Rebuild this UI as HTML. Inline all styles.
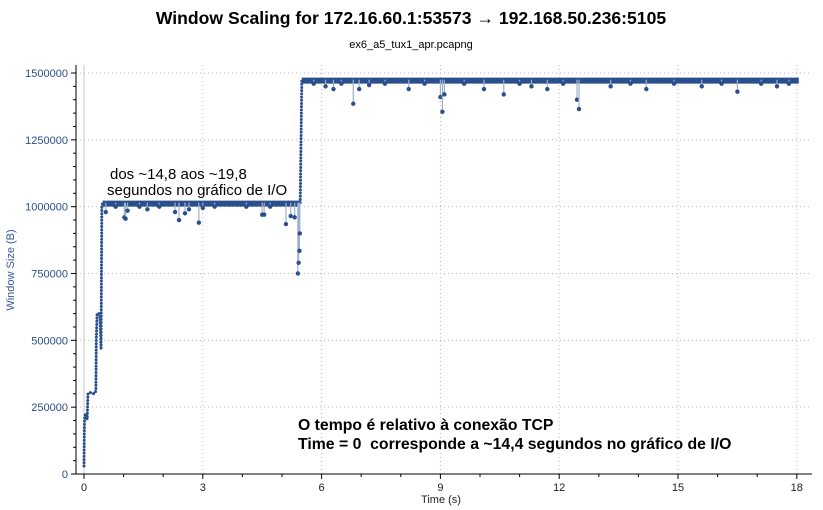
<!DOCTYPE html>
<html><head><meta charset="utf-8"><style>
body{margin:0;background:#fff;width:823px;height:510px;overflow:hidden;font-family:"Liberation Sans",sans-serif}
svg{display:block}
</style></head><body>
<svg id="chart" width="823" height="510">
<text x="411" y="24" text-anchor="middle" font-size="17.6" font-weight="bold" fill="#000">Window Scaling for 172.16.60.1:53573 → 192.168.50.236:5105</text>
<text x="411" y="48" text-anchor="middle" font-size="11" fill="#000">ex6_a5_tux1_apr.pcapng</text>
<text transform="translate(14,270) rotate(-90)" text-anchor="middle" font-size="11" fill="#3a5a9a">Window Size (B)</text>
<text x="441" y="503" text-anchor="middle" font-size="11" fill="#222">Time (s)</text>
<g id="grid"></g><g id="axes"></g><g id="series"></g>
<text x="110" y="179" font-size="15" fill="#000">dos ~14,8 aos ~19,8</text>
<text x="107" y="195" font-size="15" fill="#000">segundos no gráfico de I/O</text>
<text x="298" y="430" font-size="15.8" font-weight="bold" fill="#000">O tempo é relativo à conexão TCP</text>
<text x="298" y="449" font-size="15.8" font-weight="bold" fill="#000" style="white-space:pre">Time = 0  corresponde a ~14,4 segundos no gráfico de I/O</text>
</svg>
<script>
const xTicks=[0,3,6,9,12,15,18];
const yTicks=[0,250000,500000,750000,1000000,1250000,1500000];
const rampTimes=[0,0.005,0.01,0.02,0.05,0.08,0.1,0.15,0.25,0.3,0.31,0.33,0.38,0.4,0.42,0.43,0.45,0.47];
const rampValues=[30000,120000,180000,220000,225000,205000,300000,305000,300000,310000,500000,600000,600000,590000,520000,470000,1000000,1015000];
const plateauTimes=[0.47,5.46,5.5,18.05];
const plateauValues=[1015000,1015000,1475000,1475000];
const dipTimes=[0.55,0.8,1.02,1.05,1.1,1.4,1.6,1.9,2.3,2.4,2.55,2.65,2.9,3.0,3.3,4.1,4.5,4.55,4.7,5.1,5.22,5.32,5.4,5.42,5.44,5.45,5.8,6.1,6.3,6.5,6.8,6.95,7.2,7.6,8.2,8.6,9.0,9.05,9.1,9.6,10.1,10.6,11.0,11.3,11.7,12.1,12.45,12.5,13.3,13.8,14.2,14.9,15.6,16.1,16.5,17.1,17.5,17.8];
const dipValues=[980000,1000000,960000,955000,985000,1000000,990000,1000000,980000,950000,975000,990000,940000,995000,1000000,1000000,970000,970000,1000000,935000,965000,960000,750000,790000,835000,900000,1460000,1450000,1440000,1460000,1385000,1440000,1455000,1460000,1440000,1460000,1410000,1355000,1420000,1460000,1440000,1420000,1460000,1450000,1440000,1460000,1400000,1365000,1450000,1460000,1440000,1460000,1450000,1460000,1430000,1460000,1450000,1460000];
const NS='http://www.w3.org/2000/svg';
const X=t=>84+t*39.6, Y=v=>474-v*401/1500000;
function mk(tag,attrs,parent){const e=document.createElementNS(NS,tag);for(const k in attrs)e.setAttribute(k,attrs[k]);parent.appendChild(e);return e;}
const grid=document.getElementById('grid'),axes=document.getElementById('axes'),ser=document.getElementById('series');
xTicks.forEach(t=>{
 const g=mk('line',{x1:X(t),x2:X(t),y1:65,y2:474,stroke:t===0?'#c8c8c8':'#bbb','stroke-dasharray':t===0?'':'1 3'},grid);
 
 
 mk('line',{x1:X(t),x2:X(t),y1:474,y2:479,stroke:'#000'},axes);
 const l=mk('text',{x:X(t),y:491,'text-anchor':'middle','font-size':11,fill:'#222'},axes);l.textContent=t;
 
 
});
for(let t=1;t<=18;t++){if(t%3)mk('line',{x1:X(t),x2:X(t),y1:474,y2:477,stroke:'#000'},axes);}
yTicks.forEach(v=>{
 const g=mk('line',{x1:76,x2:812,y1:Y(v),y2:Y(v),stroke:'#bbb','stroke-dasharray':'1 3'},grid);
 
 
 mk('line',{x1:71,x2:76,y1:Y(v),y2:Y(v),stroke:'#000'},axes);
 const l=mk('text',{x:68,y:Y(v)+4,'text-anchor':'end','font-size':11,fill:'#2c4f8a'},axes);l.textContent=v;
 
 
});
for(let v=50000;v<1500000;v+=50000){if(v%250000)mk('line',{x1:73,x2:76,y1:Y(v),y2:Y(v),stroke:'#000'},axes);}
const ya=mk('line',{x1:76,x2:76,y1:65,y2:474,stroke:'#000'},axes);

const xa=mk('line',{x1:76,x2:812,y1:474,y2:474,stroke:'#000'},axes);

const pts=(ts,vs)=>ts.map((t,i)=>X(t)+','+Y(vs[i])).join(' ');
mk('polyline',{points:pts(rampTimes,rampValues),fill:'none',stroke:'#b8c4dc','stroke-width':1.5},ser);
const r2=mk('polyline',{points:pts(rampTimes,rampValues),fill:'none',stroke:'#2a4f8c','stroke-width':3,'stroke-dasharray':'0 3.2','stroke-linecap':'round'},ser);

for(let i=0;i+1<plateauTimes.length;i+=2){
 const p=mk('line',{x1:X(plateauTimes[i]),x2:X(plateauTimes[i+1]),y1:Y(plateauValues[i])+1,y2:Y(plateauValues[i+1])+1,stroke:'#2a4f8c','stroke-width':6},ser);
 
}
mk('line',{x1:X(plateauTimes[1]),x2:X(plateauTimes[2]),y1:Y(plateauValues[1]),y2:Y(plateauValues[2]),stroke:'#2a4f8c','stroke-width':3,'stroke-dasharray':'0 3.2','stroke-linecap':'round'},ser);
dipTimes.forEach((t,i)=>{
 const base=t<5.48?1015000:1475000;
 mk('line',{x1:X(t),x2:X(t),y1:Y(base),y2:Y(dipValues[i]),stroke:'#9fb0cf','stroke-width':1.2},ser);
 const c=mk('circle',{cx:X(t),cy:Y(dipValues[i]),r:2.2,fill:'#2a4f8c'},ser);
 
 
});
</script>
</body></html>
